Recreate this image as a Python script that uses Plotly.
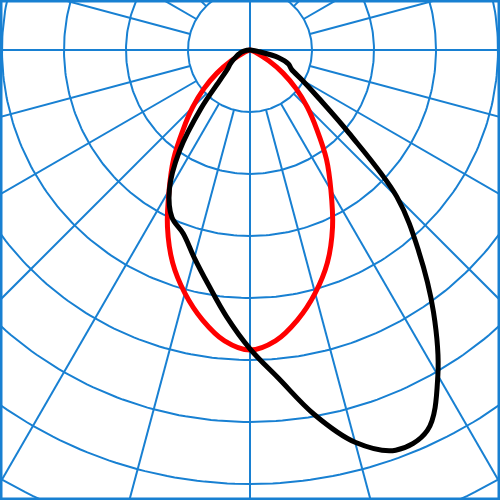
import numpy as np
import plotly.graph_objects as go

# gamma angles (deg from nadir, + to the right) and intensities, ring step = 100
angles = list(range(-90, 95, 5))

# C0-C180 plane (symmetric), values for 0..90 deg
red_half = [484, 471, 442, 406, 365, 315, 261, 215, 168, 131, 97, 65, 35, 13, 5, 2, 0, 0, 0]
red_vals = red_half[:0:-1] + red_half

# C90-C270 plane, -90..90 deg
black_vals = [0, 5, 10, 15, 19, 24, 31, 39, 47, 68, 123, 198, 260, 298, 315, 347, 385, 432,
              482, 532, 597, 655, 687, 677, 606, 516, 423, 335, 208, 135, 97, 74, 66, 48, 13, 3, 0]

rings = [100, 200, 300, 400, 500, 600, 700, 800]
spokes = list(range(0, 360, 15))

grid_col = "#1880d2"
px_per_unit = 0.62


def to_xy(ang, r):
    a = np.radians(np.asarray(ang, dtype=float))
    r = np.asarray(r, dtype=float)
    return r * np.sin(a), -r * np.cos(a)


fig = go.Figure()

t = np.linspace(0, 360, 361)
for rr in rings:
    x, y = to_xy(t, [rr] * len(t))
    fig.add_trace(go.Scatter(x=x, y=y, mode="lines", line=dict(color=grid_col, width=2),
                             hoverinfo="skip"))

for s in spokes:
    r0 = 0 if s % 90 == 0 else rings[0]
    x, y = to_xy([s, s], [r0, 1000])
    fig.add_trace(go.Scatter(x=x, y=y, mode="lines", line=dict(color=grid_col, width=2),
                             hoverinfo="skip"))

x, y = to_xy(angles, red_vals)
fig.add_trace(go.Scatter(x=x, y=y, mode="lines", line=dict(color="#ff0000", width=5, shape="spline")))
x, y = to_xy(angles, black_vals)
fig.add_trace(go.Scatter(x=x, y=y, mode="lines", line=dict(color="#000000", width=5, shape="spline")))

fig.update_layout(
    width=500, height=500,
    margin=dict(l=0, r=0, t=0, b=0),
    showlegend=False,
    plot_bgcolor="white", paper_bgcolor="white",
    xaxis=dict(range=[-250 / px_per_unit, 250 / px_per_unit], visible=False),
    yaxis=dict(range=[-450 / px_per_unit, 50 / px_per_unit], visible=False),
    shapes=[dict(type="rect", xref="paper", yref="paper", x0=0, y0=0, x1=1, y1=1,
                 line=dict(color=grid_col, width=5))],
)

fig.write_html("out.html", config={"displayModeBar": False},
               post_script="document.body.style.margin='0';")
